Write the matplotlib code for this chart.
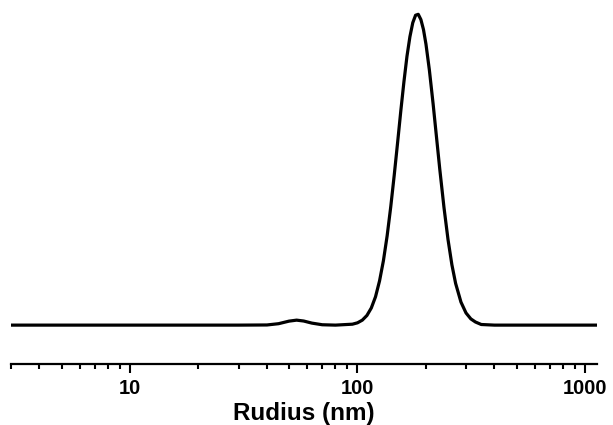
import numpy as np
import matplotlib.pyplot as plt
from matplotlib.ticker import FixedLocator, FixedFormatter, LogLocator, NullFormatter

plt.rcParams['font.family'] = ['Liberation Sans', 'DejaVu Sans']

# radius (nm) and relative intensity
radius = [3, 10, 30, 40, 45, 50, 54, 58, 63, 70, 80, 95, 100, 105, 110, 115, 120,
          125, 130, 135, 140, 145, 150, 155, 160, 165, 170, 175, 180, 185, 190,
          195, 200, 207, 215, 222, 230, 240, 250, 260, 270, 285, 300, 315, 330,
          350, 400, 600, 1130]
intensity = [0.0, 0.0, 0.0, 0.05, 0.46, 1.28, 1.6, 1.32, 0.65, 0.12, 0.0, 0.3, 0.74,
             1.6, 3.1, 5.5, 9.1, 14.2, 20.7, 28.7, 38.0, 48.1, 58.5, 68.8, 78.2,
             86.4, 92.7, 97.2, 99.6, 99.9, 98.2, 95.0, 90.3, 82.0, 71.1, 61.1,
             50.1, 37.8, 27.5, 19.4, 13.4, 7.4, 3.9, 2.0, 1.0, 0.2, 0.0, 0.0, 0.0]

major_ticks = [10, 100, 1000]
major_labels = ['10', '100', '1000']

fig = plt.figure(figsize=(6.13, 4.25), dpi=100)
ax = fig.add_axes([0.018, 0.1435, 0.956, 0.8565])

ax.plot(radius, intensity, color='black', lw=2.3, solid_joinstyle='round')

ax.set_xscale('log')
ax.set_xlim(3, 1130)
ax.set_ylim(-12.5, 104.5)

for s in ['left', 'right', 'top']:
    ax.spines[s].set_visible(False)
ax.spines['bottom'].set_linewidth(1.6)
ax.set_yticks([])

ax.xaxis.set_major_locator(FixedLocator(major_ticks))
ax.xaxis.set_major_formatter(FixedFormatter(major_labels))
ax.xaxis.set_minor_locator(LogLocator(base=10, subs=np.arange(2, 10)))
ax.xaxis.set_minor_formatter(NullFormatter())
ax.tick_params(axis='x', which='major', length=6.5, width=1.5, pad=4.5,
               labelsize=14.5)
ax.tick_params(axis='x', which='minor', length=3.5, width=1.5)
for lbl in ax.get_xticklabels():
    lbl.set_fontweight('bold')

ax.set_xlabel('Rudius (nm)', fontsize=17.5, fontweight='bold', labelpad=3)

fig.savefig('out.png', dpi=100)
